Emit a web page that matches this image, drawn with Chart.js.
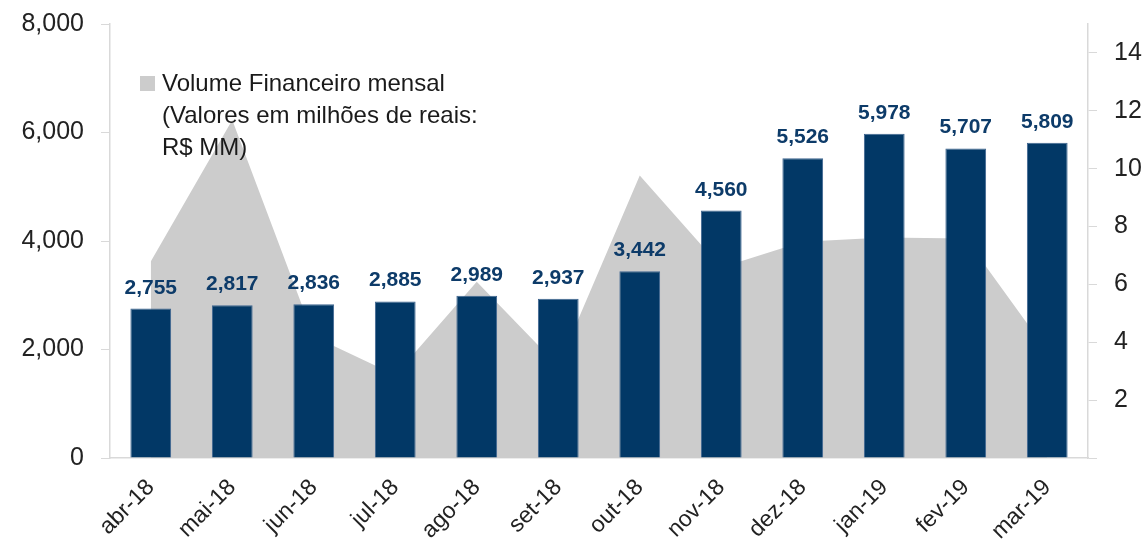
<!DOCTYPE html>
<html>
<head>
<meta charset="utf-8">
<script src="https://cdn.jsdelivr.net/npm/chart.js@4.4.1/dist/chart.umd.min.js"></script>
<style>
  html, body { margin: 0; padding: 0; background: #fff; }
  #wrap { position: relative; width: 1144px; height: 543px; }
</style>
</head>
<body>
<div id="wrap"><canvas id="chart"></canvas></div>
<script>
// months
const months = ['abr-18', 'mai-18', 'jun-18', 'jul-18', 'ago-18', 'set-18',
  'out-18', 'nov-18', 'dez-18', 'jan-19', 'fev-19', 'mar-19'];

// bars, left axis
const barValues = [2755, 2817, 2836, 2885, 2989, 2937, 3442, 4560, 5526, 5978, 5707, 5809];

// grey area, right axis (volume financeiro mensal)
const volumeValues = [6.79, 11.68, 4.2, 2.87, 6.09, 3.18, 9.76, 6.58, 7.47, 7.62, 7.59, 3.69];

const legendLines = ['Volume Financeiro mensal', '(Valores em milhões de reais:', 'R$ MM)'];

const FONT = '"Liberation Sans", Arial, Helvetica, sans-serif';
const BAR_COLOR = '#023866';
const AREA_COLOR = '#cccccc';
const AXIS_COLOR = '#d9d9d9';

const fmt = v => Math.round(v).toLocaleString('en-US');

// value labels above the bars
const barLabels = {
  id: 'barLabels',
  afterDatasetsDraw(chart) {
    const ctx = chart.ctx;
    const meta = chart.getDatasetMeta(0);
    ctx.save();
    ctx.font = 'bold 21px ' + FONT;
    ctx.fillStyle = '#0d3b69';
    ctx.textAlign = 'center';
    ctx.textBaseline = 'alphabetic';
    meta.data.forEach((bar, i) => {
      ctx.fillText(fmt(barValues[i]), bar.x, bar.y - 15);
    });
    ctx.restore();
  }
};

// legend box with three lines of text
const areaLegend = {
  id: 'areaLegend',
  afterDraw(chart) {
    const ctx = chart.ctx;
    ctx.save();
    ctx.fillStyle = AREA_COLOR;
    ctx.fillRect(140, 76, 15, 15);
    ctx.font = '24px ' + FONT;
    ctx.fillStyle = '#1a1a1a';
    ctx.textAlign = 'left';
    ctx.textBaseline = 'alphabetic';
    legendLines.forEach((line, i) => {
      ctx.fillText(line, 162, 91 + i * 32);
    });
    ctx.restore();
  }
};

new Chart(document.getElementById('chart'), {
  data: {
    labels: months,
    datasets: [
      {
        type: 'bar',
        label: 'Volume',
        data: barValues,
        backgroundColor: BAR_COLOR,
        borderColor: '#3f6690',
        borderWidth: 1,
        barPercentage: 0.5,
        categoryPercentage: 1,
        yAxisID: 'y',
        order: 1
      },
      {
        type: 'line',
        label: legendLines.join(' '),
        data: volumeValues,
        backgroundColor: AREA_COLOR,
        borderWidth: 0,
        pointRadius: 0,
        tension: 0,
        fill: 'origin',
        yAxisID: 'y1',
        order: 2
      }
    ]
  },
  options: {
    responsive: true,
    maintainAspectRatio: false,
    animation: false,
    layout: { padding: { top: 24, left: 0, right: 0, bottom: 0 } },
    plugins: {
      legend: { display: false },
      tooltip: { enabled: false }
    },
    scales: {
      x: {
        grid: { display: false, drawTicks: false },
        border: { display: true, color: AXIS_COLOR, width: 1.5 },
        ticks: {
          color: '#222',
          font: { family: FONT, size: 23 },
          maxRotation: 45,
          minRotation: 45,
          padding: 16
        },
        afterFit(scale) { scale.height = 85; }
      },
      y: {
        position: 'left',
        min: 0,
        max: 8000,
        grid: { drawOnChartArea: false, drawTicks: true, tickLength: 9, color: AXIS_COLOR },
        border: { display: true, color: AXIS_COLOR, width: 1.5 },
        ticks: {
          stepSize: 2000,
          color: '#222',
          font: { family: FONT, size: 25 },
          padding: 17,
          callback: v => fmt(v)
        },
        afterFit(scale) { scale.width = 110; scale.paddingTop = 0; scale.paddingBottom = 0; }
      },
      y1: {
        position: 'right',
        min: 0,
        max: 15,
        grid: { drawOnChartArea: false, drawTicks: true, tickLength: 9, color: AXIS_COLOR },
        border: { display: true, color: AXIS_COLOR, width: 1.5 },
        ticks: {
          stepSize: 2,
          includeBounds: false,
          color: '#222',
          font: { family: FONT, size: 25 },
          padding: 17,
          callback: v => (v === 0 ? '' : v)
        },
        afterFit(scale) { scale.width = 56; scale.paddingTop = 0; scale.paddingBottom = 0; }
      }
    }
  },
  plugins: [barLabels, areaLegend]
});
</script>
</body>
</html>
